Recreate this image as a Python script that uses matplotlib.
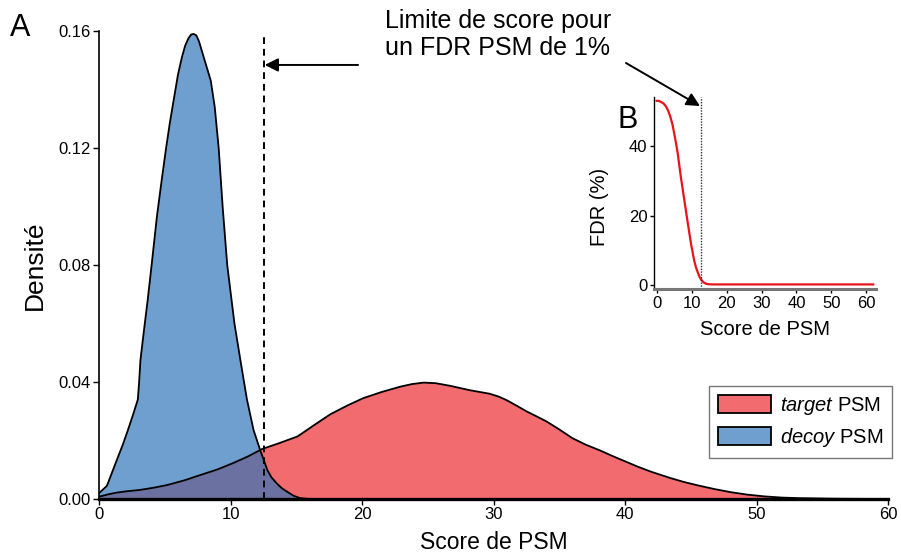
import matplotlib
matplotlib.use('Agg')
import matplotlib.pyplot as plt
from matplotlib.patches import Patch, FancyArrowPatch
from matplotlib.colors import to_rgba

plt.rcParams['font.family'] = ['Liberation Sans', 'DejaVu Sans']
plt.rcParams['mathtext.fontset'] = 'custom'
plt.rcParams['mathtext.rm'] = 'Liberation Sans'
plt.rcParams['mathtext.it'] = 'Liberation Sans:italic'

# decoy PSM density
decoy_x = [0.0, 0.6, 1.35, 1.8, 2.2, 2.6, 2.95, 3.05, 3.15, 3.4, 3.7, 4.0, 4.4, 4.75,
           5.1, 5.4, 5.7, 6.0, 6.3, 6.55, 6.8, 7.0, 7.2, 7.4, 7.6, 7.9, 8.2, 8.5,
           8.8, 9.1, 9.4, 9.75, 10.3, 10.75, 11.25, 11.75, 12.25, 12.8, 13.1, 13.5,
           13.9, 14.3, 14.8, 15.3, 16.0, 17.0]
decoy_y = [0.0020, 0.0045, 0.0133, 0.0185, 0.0236, 0.0290, 0.0340, 0.0400, 0.0475,
           0.0570, 0.0680, 0.0800, 0.0965, 0.1085, 0.1200, 0.1290, 0.1370, 0.1450,
           0.1510, 0.1550, 0.1575, 0.1588, 0.1590, 0.1585, 0.1565, 0.1520, 0.1475,
           0.1430, 0.1340, 0.1200, 0.1000, 0.0800, 0.0600, 0.0475, 0.0340, 0.0236,
           0.0168, 0.0099, 0.0075, 0.0054, 0.0037, 0.0025, 0.0011, 0.0003, 0.0, 0.0]

# target PSM density
target_x = [0.0, 0.7, 1.35, 2.2, 3.1, 4.2, 5.2, 6.5, 7.7, 9.0, 10.2, 11.3, 12.4,
            13.7, 15.1, 16.4, 17.6, 18.9, 20.1, 21.5, 22.9, 23.8, 24.7, 25.6, 26.7,
            28.2, 29.7, 30.4, 31.0, 31.8, 32.5, 33.3, 34.0, 35.0, 36.0, 37.0, 38.1,
            39.1, 40.1, 41.0, 42.0, 43.5, 44.5, 45.6, 46.8, 48.1, 49.3, 50.6, 51.9,
            53.2, 56.0, 60.0]
target_y = [0.0008, 0.0016, 0.0022, 0.0027, 0.0031, 0.0039, 0.0048, 0.0064, 0.0082,
            0.0101, 0.0123, 0.0145, 0.0171, 0.0191, 0.0214, 0.0254, 0.0290, 0.0320,
            0.0345, 0.0366, 0.0384, 0.0393, 0.0398, 0.0396, 0.0387, 0.0372, 0.0360,
            0.0350, 0.0338, 0.0318, 0.0300, 0.0282, 0.0266, 0.0238, 0.0208, 0.0186,
            0.0166, 0.0146, 0.0127, 0.0110, 0.0093, 0.0071, 0.0058, 0.0046, 0.0034,
            0.0023, 0.0015, 0.0009, 0.0005, 0.0003, 0.0001, 0.0]

# FDR curve for the inset
fdr_x = [0.0, 0.6, 1.2, 2.0, 2.7, 3.3, 3.9, 4.5, 5.0, 5.5, 6.0, 6.9, 7.9, 8.9, 9.8,
         10.7, 11.2, 11.7, 12.2, 12.7, 13.4, 14.1, 15.0, 16.0, 20.0, 30.0, 40.0,
         50.0, 60.0, 62.0]
fdr_y = [53.1, 53.1, 52.8, 52.3, 51.4, 50.2, 48.5, 46.3, 43.7, 41.0, 38.0, 31.2,
         24.5, 17.8, 12.0, 7.2, 5.2, 3.8, 2.5, 1.6, 0.8, 0.4, 0.25, 0.2, 0.2, 0.2,
         0.2, 0.2, 0.2, 0.2]

cutoff = 12.55

red = '#F26B6E'
blue = to_rgba('#2E74B8', 0.69)

fig = plt.figure(figsize=(9.01, 5.59), dpi=100)
ax = fig.add_axes([0.1099, 0.1073, 0.8757, 0.8372])

ax.fill_between(target_x, target_y, 0, facecolor=red, edgecolor='none')
ax.plot(target_x, target_y, color='black', lw=1.3)
ax.fill_between(decoy_x, decoy_y, 0, facecolor=blue, edgecolor='none')
ax.plot(decoy_x, decoy_y, color='black', lw=1.3)

ax.axvline(cutoff, ymin=0, ymax=0.996, color='black', lw=1.4, ls=(0, (3.5, 2.5)))
ax.annotate('', xy=(cutoff + 0.05, 0.1484), xytext=(19.7, 0.1484),
            arrowprops=dict(arrowstyle='-|>', color='black', lw=1.4,
                            mutation_scale=20, shrinkA=0, shrinkB=0))

ax.set_xlim(0, 60)
ax.set_ylim(0, 0.16)
ax.set_xticks([0, 10, 20, 30, 40, 50, 60])
ax.set_yticks([0.0, 0.04, 0.08, 0.12, 0.16])
ax.set_yticklabels(['0.00', '0.04', '0.08', '0.12', '0.16'])
ax.tick_params(labelsize=12, length=4, width=1, pad=2)
for s in ['top', 'right']:
    ax.spines[s].set_visible(False)
ax.spines['left'].set_linewidth(1.2)
ax.spines['bottom'].set_linewidth(2.4)
ax.set_xlabel('Score de PSM', fontsize=16.5, labelpad=6)
ax.set_ylabel('Densité', fontsize=19, labelpad=8)

handles = [Patch(facecolor=red, edgecolor='black', lw=1.3),
           Patch(facecolor=blue, edgecolor='black', lw=1.3)]
leg = ax.legend(handles, [r'$\mathit{target}$ PSM', r'$\mathit{decoy}$ PSM'],
                loc='upper right', bbox_to_anchor=(0.990, 0.3095),
                bbox_transform=fig.transFigure, fontsize=14.5, fancybox=False,
                edgecolor='#777777', handlelength=2.6, handleheight=1.0,
                handletextpad=0.45, labelspacing=0.45, borderpad=0.45,
                borderaxespad=0, framealpha=1)
leg.get_frame().set_linewidth(1.0)

fig.text(0.011, 1 - 36 / 559, 'A', fontsize=22, va='baseline')
fig.text(385 / 901, 1 - 55 / 559, 'Limite de score pour\nun FDR PSM de 1%',
         fontsize=18, va='baseline', ha='left', linespacing=1.15)

# inset B
axi = fig.add_axes([0.7262, 0.4825, 0.2457, 0.3445])
axi.plot(fdr_x, fdr_y, color='#E8141C', lw=1.6)
axi.axvline(12.6, color='#333333', lw=1.0, ls=(0, (1, 1)))
axi.set_xlim(-0.7, 62.7)
axi.set_ylim(-1.2, 54.3)
axi.set_xticks([0, 10, 20, 30, 40, 50, 60])
axi.set_yticks([0, 20, 40])
axi.tick_params(labelsize=12, length=3, width=1, pad=2)
for s in ['top', 'right']:
    axi.spines[s].set_visible(False)
axi.spines['left'].set_linewidth(1.0)
axi.spines['bottom'].set_linewidth(2.2)
axi.spines['bottom'].set_color('#777777')
axi.set_xlabel('Score de PSM', fontsize=14.5, labelpad=6)
axi.set_ylabel('FDR (%)', fontsize=14.5, labelpad=4)
axi.yaxis.set_label_coords(-0.205, 0.43)

fig.text(618 / 901, 1 - 128 / 559, 'B', fontsize=22, va='baseline')
fig.add_artist(FancyArrowPatch(
    (626 / 901, 1 - 63 / 559), (700 / 901, 1 - 106 / 559),
    transform=fig.transFigure, arrowstyle='-|>', mutation_scale=20,
    color='black', lw=1.4, shrinkA=0, shrinkB=0))

fig.savefig('out.png', dpi=100)
